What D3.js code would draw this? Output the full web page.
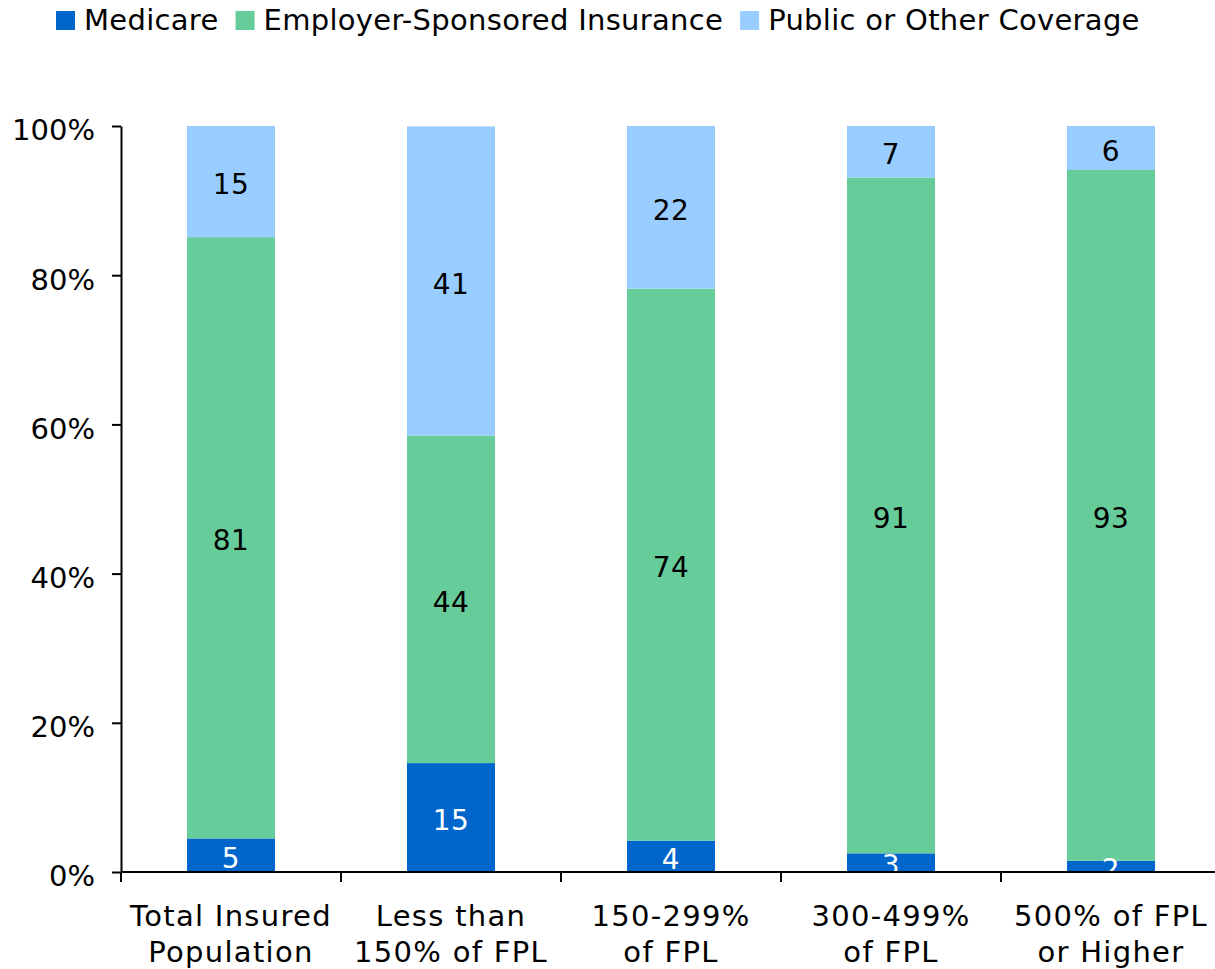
<!DOCTYPE html>
<html>
<head>
<meta charset="utf-8">
<script src="https://cdn.jsdelivr.net/npm/d3@7"></script>
<style>
  html, body { margin: 0; padding: 0; background: #fff; }
  svg { display: block; font-family: Verdana, "DejaVu Sans", sans-serif; }
</style>
</head>
<body>
<svg id="chart" width="1215" height="969"></svg>
<script>
// ---- data ----
const categories = [
  ["Total Insured", "Population"],
  ["Less than", "150% of FPL"],
  ["150-299%", "of FPL"],
  ["300-499%", "of FPL"],
  ["500% of FPL", "or Higher"]
];
const seriesNames = ["Medicare", "Employer-Sponsored Insurance", "Public or Other Coverage"];
const medicare = [4.5, 14.6, 4.2, 2.5, 1.5];
const employer = [80.6, 43.9, 74.0, 90.6, 92.6];
const publicOther = [14.9, 41.45, 21.8, 6.9, 5.9];
const yTicks = [0, 20, 40, 60, 80, 100];
const colors = ["#0066CC", "#66CC99", "#99CCFF"];
const labelColors = ["#ffffff", "#000000", "#000000"];

(function () {
// ---- build table ----
const keys = ["medicare", "employer", "publicOther"];
const rows = categories.map((c, i) => ({
  id: c.join(" "),
  lines: c,
  medicare: medicare[i],
  employer: employer[i],
  publicOther: publicOther[i]
}));

const svg = d3.select("#chart");
const plotLeft = 121, plotRight = 1221, plotBottom = 872, plotTop = 126;

const x = d3.scaleBand()
  .domain(rows.map(d => d.id))
  .range([plotLeft, plotRight])
  .paddingInner(0.6)
  .paddingOuter(0.3);
const y = d3.scaleLinear().domain([0, 100]).range([plotBottom, plotTop]);

const layers = d3.stack().keys(keys)(rows);

// bars
const g = svg.append("g");
layers.forEach((layer, li) => {
  g.selectAll(null)
    .data(layer)
    .join("rect")
    .attr("x", d => x(d.data.id))
    .attr("width", x.bandwidth())
    .attr("y", d => y(d[1]))
    .attr("height", d => y(d[0]) - y(d[1]))
    .attr("fill", colors[li]);
});

// value labels
layers.forEach((layer, li) => {
  g.selectAll(null)
    .data(layer)
    .join("text")
    .attr("x", d => x(d.data.id) + x.bandwidth() / 2)
    .attr("y", d => (y(d[0]) + y(d[1])) / 2)
    .attr("dy", "0.45em")
    .attr("text-anchor", "middle")
    .attr("font-size", 28)
    .attr("letter-spacing", 0.5)
    .attr("fill", labelColors[li])
    .text(d => Math.round(d.data[keys[li]]));
});

// y axis
const yAxis = d3.axisLeft(y)
  .tickValues(yTicks)
  .tickFormat(d => d + "%")
  .tickSize(9)
  .tickSizeOuter(0)
  .tickPadding(17);
const yg = svg.append("g").attr("transform", `translate(${plotLeft},0)`).call(yAxis);
yg.select(".domain").attr("stroke", "#000").attr("stroke-width", 2);
yg.selectAll(".tick line").attr("stroke", "#000").attr("stroke-width", 2);
yg.selectAll(".tick text")
  .attr("font-size", 29)
  .attr("font-family", "Verdana, 'DejaVu Sans', sans-serif")
  .attr("fill", "#000")
  .attr("dy", "0.48em");

// x axis line
svg.append("line")
  .attr("x1", plotLeft).attr("x2", 1215)
  .attr("y1", plotBottom).attr("y2", plotBottom)
  .attr("stroke", "#000").attr("stroke-width", 2);

// x ticks at category boundaries
const step = x.step();
const boundaries = rows.map(d => x(d.id) - x.paddingOuter() * step);
svg.selectAll(null)
  .data(boundaries)
  .join("line")
  .attr("x1", d => d).attr("x2", d => d)
  .attr("y1", plotBottom).attr("y2", plotBottom + 10)
  .attr("stroke", "#000").attr("stroke-width", 2);

// category labels
const cl = svg.append("g");
rows.forEach(d => {
  const cx = x(d.id) + x.bandwidth() / 2;
  const t = cl.append("text")
    .attr("x", cx)
    .attr("y", 926)
    .attr("text-anchor", "middle")
    .attr("font-size", 29)
    .attr("letter-spacing", 1.3)
    .attr("fill", "#000");
  d.lines.forEach((ln, i) => {
    t.append("tspan")
      .attr("x", cx)
      .attr("dy", i === 0 ? 0 : 36)
      .text(ln);
  });
});

// legend
const legend = svg.append("g");
let lx = 56;
seriesNames.forEach((name, i) => {
  legend.append("rect")
    .attr("x", lx).attr("y", 11)
    .attr("width", 19).attr("height", 19)
    .attr("fill", colors[i]);
  const t = legend.append("text")
    .attr("x", lx + 28).attr("y", 30)
    .attr("font-size", 29)
    .attr("letter-spacing", 0.3)
    .attr("fill", "#000")
    .text(name);
  const w = t.node().getComputedTextLength();
  lx = lx + 28 + w + 17;
});
})();
</script>
</body>
</html>
